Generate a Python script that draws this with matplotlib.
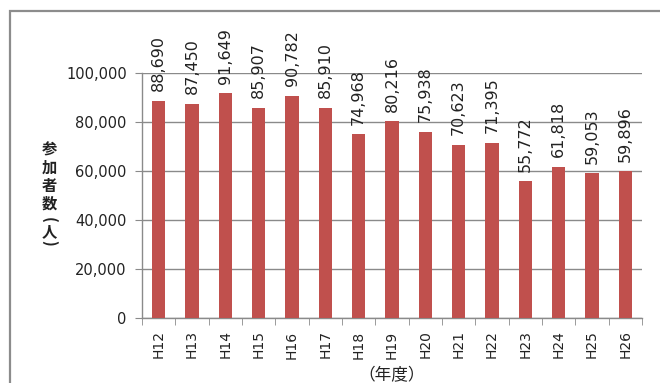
import matplotlib
matplotlib.use("Agg")
import matplotlib.pyplot as plt
from matplotlib.patches import Rectangle
import numpy as np

plt.rcParams['font.family'] = ['DejaVu Sans', 'Noto Sans CJK JP']

categories = ["H12", "H13", "H14", "H15", "H16", "H17", "H18", "H19", "H20",
              "H21", "H22", "H23", "H24", "H25", "H26"]
values = [88690, 87450, 91649, 85907, 90782, 85910, 74968, 80216, 75938,
          70623, 71395, 55772, 61818, 59053, 59896]
yticks = [0, 20000, 40000, 60000, 80000, 100000]

TXT = '#222222'
GRAY = '#8a8a8a'

fig = plt.figure(figsize=(6.6, 3.83), dpi=100)
fig.patch.set_facecolor('white')

# outer chart frame
fig.patches.append(Rectangle((10/660, -0.05), 1.0, 1 - 11/383 + 0.05,
                             transform=fig.transFigure, fill=False,
                             edgecolor='#8c8c8c', linewidth=1.6))

ax = fig.add_axes([142/660, 1 - 318/383, 500/660, 245/383])
x = np.arange(len(categories))
ax.bar(x, values, width=0.4, color='#C0504D', zorder=3)

ax.set_xlim(-0.5, len(categories) - 0.5)
ax.set_ylim(0, 100000)
ax.set_yticks(yticks)
ax.set_yticklabels([f"{v:,}" for v in yticks], fontsize=10.5, color=TXT)
ax.yaxis.grid(True, color=GRAY, linewidth=1.0, zorder=0)
ax.set_axisbelow(True)

ax.set_xticks(x)
ax.set_xticklabels(categories, rotation=90, fontsize=10, color=TXT)
ax.tick_params(axis='x', length=0, pad=9)
ax.set_xticks(np.arange(-0.5, len(categories)), minor=True)
ax.tick_params(axis='x', which='minor', length=5, color=GRAY, direction='out')
ax.tick_params(axis='y', length=5, color=GRAY, direction='out', pad=6)

for s in ['top', 'right']:
    ax.spines[s].set_visible(False)
for s in ['left', 'bottom']:
    ax.spines[s].set_color(GRAY)
    ax.spines[s].set_linewidth(1.0)

for xi, v in zip(x, values):
    ax.annotate(f"{v:,}", (xi, v), xytext=(0, 7), textcoords='offset points',
                rotation=90, ha='center', va='bottom', fontsize=11.5, color=TXT)

# vertical y-axis title (stacked characters)
cjk = ['Noto Sans CJK JP', 'DejaVu Sans']
ylab_chars = [("参", 150, 0), ("加", 168, 0), ("者", 186, 0), ("数", 204, 0),
              ("(", 220, -90), ("人", 231, 0), (")", 243, -90)]
for ch, ypix, rot in ylab_chars:
    fig.text(49/660, 1 - ypix/383, ch, ha='center', va='center', fontsize=11,
             rotation=rot, rotation_mode='anchor', family=cjk,
             fontweight='bold', color=TXT)

fig.text(392/660, 1 - 376/383, "（年度）", ha='center', va='center', fontsize=12,
         family=cjk, color=TXT)

fig.savefig("out.png", dpi=100, facecolor='white')
